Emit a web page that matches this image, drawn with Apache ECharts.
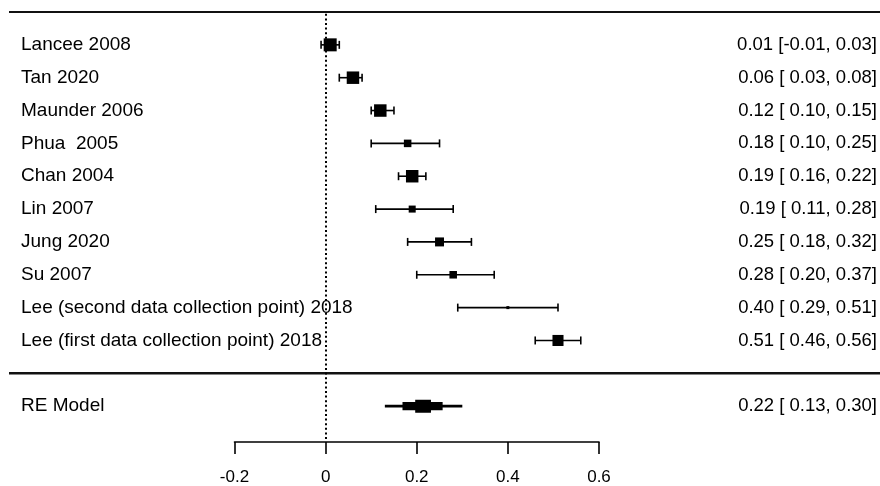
<!DOCTYPE html>
<html>
<head><meta charset="utf-8">
<script type="text/javascript" src="https://cdn.jsdelivr.net/npm/echarts@6/dist/echarts.min.js"></script>
</head>
<body style="margin:0;background-color:#fff;">
    <!-- forest plot -->
    <div id="main" style="width:880px;height:486px;"></div>
<script type="text/javascript">
var studies = ['Lancee 2008', 'Tan 2020', 'Maunder 2006', 'Phua  2005', 'Chan 2004',
    'Lin 2007', 'Jung 2020', 'Su 2007', 'Lee (second data collection point) 2018',
    'Lee (first data collection point) 2018']
var est    = [0.01, 0.06, 0.12, 0.18, 0.19, 0.19, 0.25, 0.28, 0.40, 0.51]
var ciLow  = [-0.01, 0.03, 0.10, 0.10, 0.16, 0.11, 0.18, 0.20, 0.29, 0.46]
var ciHigh = [0.03, 0.08, 0.15, 0.25, 0.22, 0.28, 0.32, 0.37, 0.51, 0.56]
// relative weight (box size)
var weights = [1.0, 0.96, 0.96, 0.58, 0.96, 0.54, 0.69, 0.58, 0.23, 0.85]
var reName = 'RE Model'
var reEst = 0.22, reLow = 0.13, reHigh = 0.30
var xTicks = [-0.2, 0, 0.2, 0.4, 0.6]

var font = "'Liberation Sans', Arial, sans-serif"

// row numbers like metafor: studies k..1, separator 0, summary -1
var k = studies.length
var rowName = {}, rowText = {}
function fmt(v){ return (v < 0 ? '' : ' ') + v.toFixed(2) }
function ciText(e, lo, hi){ return e.toFixed(2) + ' [' + fmt(lo) + ', ' + hi.toFixed(2) + ']' }
var studyData = []
for (var i = 0; i < k; i++) {
    var row = k - i
    rowName[row] = studies[i]
    rowText[row] = ciText(est[i], ciLow[i], ciHigh[i])
    studyData.push([est[i], ciLow[i], ciHigh[i], row, weights[i]])
}
rowName[-1] = reName
rowText[-1] = ciText(reEst, reLow, reHigh)

var myChart = echarts.init(document.getElementById('main'))

function renderStudy(params, api){
    var row = api.value(3)
    var pLo = api.coord([api.value(1), row])
    var pHi = api.coord([api.value(2), row])
    var pE = api.coord([api.value(0), row])
    var y = pE[1]
    var s = api.value(4) * 13
    var cap = 4
    var st = {stroke: '#000', lineWidth: 1.6}
    return {type: 'group', children: [
        {type: 'line', shape: {x1: pLo[0], y1: y, x2: pHi[0], y2: y}, style: st},
        {type: 'line', shape: {x1: pLo[0], y1: y - cap, x2: pLo[0], y2: y + cap}, style: st},
        {type: 'line', shape: {x1: pHi[0], y1: y - cap, x2: pHi[0], y2: y + cap}, style: st},
        {type: 'rect', shape: {x: pE[0] - s / 2, y: y - s / 2, width: s, height: s}, style: {fill: '#000'}}
    ]}
}

// summary polygon (stepped diamond as in the original)
function renderRE(params, api){
    var row = api.value(3)
    var l = api.coord([api.value(1), row])[0]
    var h = api.coord([api.value(2), row])[0]
    var c = api.coord([api.value(0), row])
    var e = c[0], y = c[1]
    var m1 = e - (e - l) * 0.57, m2 = e + (h - e) * 0.46
    var c1 = e - (e - l) * 0.26, c2 = e + (h - e) * 0.14
    var pts = [
        [l, y - 1.4], [m1, y - 1.4], [m1, y - 4.2], [c1, y - 4.2], [c1, y - 6.5],
        [c2, y - 6.5], [c2, y - 4.2], [m2, y - 4.2], [m2, y - 1.4], [h, y - 1.4],
        [h, y + 1.4], [m2, y + 1.4], [m2, y + 4.2], [c2, y + 4.2], [c2, y + 6.5],
        [c1, y + 6.5], [c1, y + 4.2], [m1, y + 4.2], [m1, y + 1.4], [l, y + 1.4]
    ]
    return {type: 'polygon', shape: {points: pts}, style: {fill: '#000'}}
}

// full-width rules at top and above the summary row
function renderRule(params, api){
    var p = api.coord([0, api.value(1)])
    return {type: 'line', shape: {x1: 9, y1: p[1], x2: api.getWidth(), y2: p[1]},
        style: {stroke: '#111', lineWidth: api.value(2)}}
}

myChart.setOption({
    animation: false,
    grid: {left: 234.5, right: 279.5, top: 12, bottom: 46},
    xAxis: {
        type: 'value', min: -0.2, max: 0.6, interval: 0.2, offset: 3,
        axisLine: {show: true, onZero: false, lineStyle: {color: '#000', width: 1.6}},
        axisTick: {show: true, length: 12, lineStyle: {color: '#000', width: 1.6}},
        axisLabel: {color: '#000', fontSize: 17, fontFamily: font, margin: 27,
            formatter: function(v){ return xTicks.indexOf(Math.round(v * 10) / 10) >= 0 ? String(Math.round(v * 10) / 10) : '' }},
        splitLine: {show: false}
    },
    yAxis: [{
        type: 'value', min: -2, max: 11, interval: 1, position: 'left',
        axisLine: {show: false}, axisTick: {show: false}, splitLine: {show: false},
        axisLabel: {align: 'left', margin: 213.5, color: '#000', fontSize: 19, fontFamily: font,
            formatter: function(v){ return rowName[v] || '' }}
    }, {
        type: 'value', min: -2, max: 11, interval: 1, position: 'right',
        axisLine: {show: false}, axisTick: {show: false}, splitLine: {show: false},
        axisLabel: {align: 'right', margin: 278, color: '#000', fontSize: 18.5, fontFamily: font,
            formatter: function(v){ return rowText[v] || '' }}
    }],
    series: [
        {
            type: 'custom', name: 'rules', renderItem: renderRule, clip: false, silent: true,
            data: [[0, 11, 1.8], [0, 0, 2.6]],
            encode: {x: 0, y: 1}
        },
        {
            type: 'custom', name: 'studies', renderItem: renderStudy, clip: false,
            data: studyData,
            encode: {x: [0, 1, 2], y: 3},
            markLine: {
                silent: true, symbol: 'none', label: {show: false},
                lineStyle: {color: '#000', width: 2, type: [2, 2.6]},
                data: [{xAxis: 0}]
            }
        },
        {
            type: 'custom', name: 'RE Model', renderItem: renderRE, clip: false,
            data: [[reEst, reLow, reHigh, -1]],
            encode: {x: [0, 1, 2], y: 3}
        }
    ]
})
</script>
</body>
</html>
